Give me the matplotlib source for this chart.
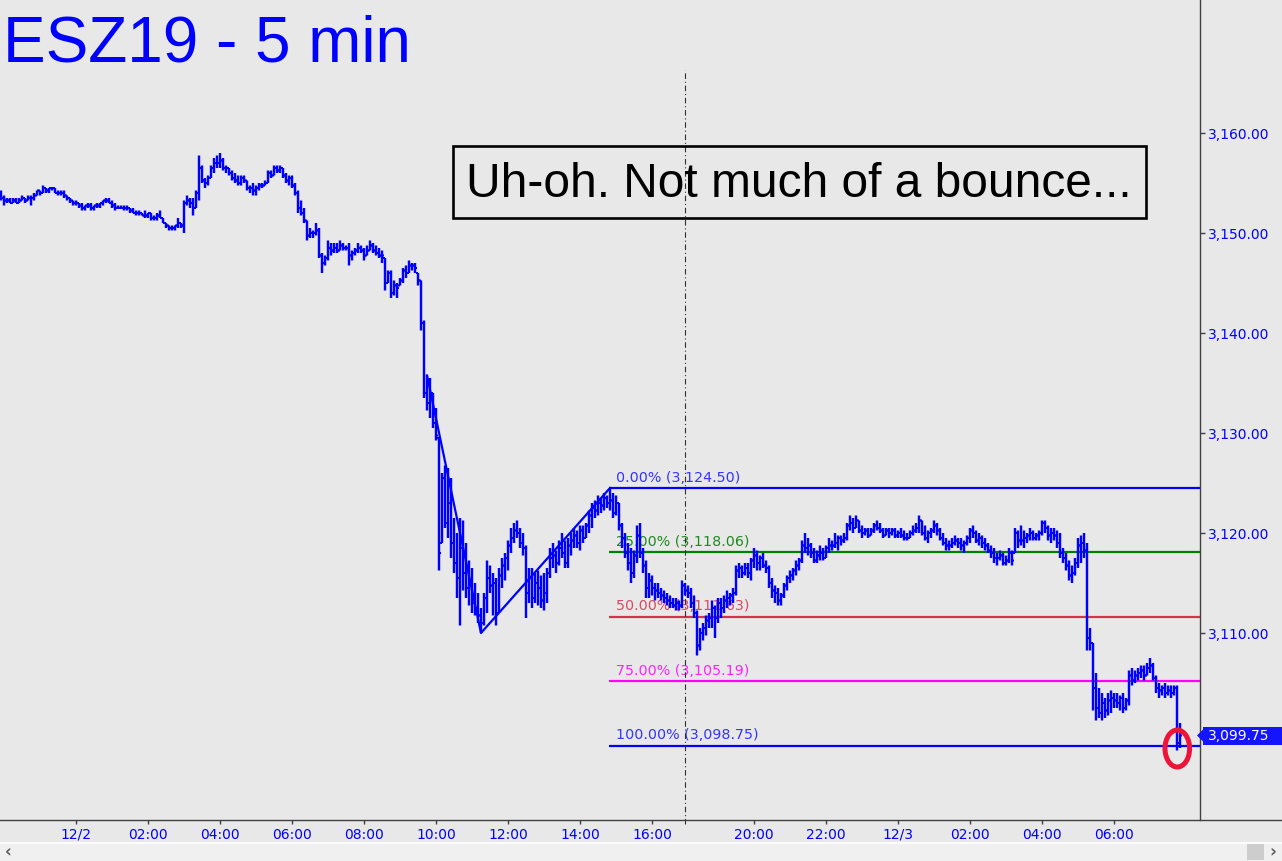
import numpy as np
import matplotlib
matplotlib.use("Agg")
import matplotlib.pyplot as plt
from matplotlib.patches import Ellipse, Rectangle, Polygon
from matplotlib.lines import Line2D
from matplotlib.ticker import FuncFormatter
from matplotlib.transforms import blended_transform_factory

# ---- 5 min bars, ESZ19 (high / low / close per bar)
hi = [3154.25, 3153.75, 3153.5, 3153.5, 3153.5, 3153.5, 3153.5, 3153.75, 3153.5, 3153.75,
      3153.75, 3154.0, 3154.25, 3154.25, 3154.75, 3154.5, 3154.5, 3154.5, 3154.5, 3154.25,
      3154.25, 3154.25, 3153.75, 3153.5, 3153.25, 3153.25, 3153.0, 3153.0, 3152.75, 3153.0,
      3153.0, 3152.75, 3153.0, 3153.0, 3153.25, 3153.5, 3153.5, 3153.25, 3153.0, 3152.75,
      3152.75, 3152.75, 3152.75, 3152.5, 3152.5, 3152.25, 3152.25, 3152.0, 3152.25, 3152.0,
      3152.0, 3151.75, 3152.0, 3152.25, 3151.5, 3151.0, 3150.75, 3150.75, 3150.75, 3151.5,
      3151.0, 3153.25, 3153.75, 3153.5, 3153.5, 3154.25, 3157.75, 3156.75, 3155.5, 3155.75,
      3156.75, 3157.5, 3157.75, 3158.0, 3157.5, 3156.75, 3156.5, 3156.25, 3156.0, 3155.75,
      3155.75, 3155.75, 3155.25, 3154.75, 3155.0, 3154.75, 3155.0, 3155.0, 3155.25, 3156.25,
      3156.25, 3156.75, 3156.75, 3156.75, 3156.5, 3156.0, 3155.75, 3155.75, 3155.0, 3154.25,
      3153.25, 3152.5, 3151.25, 3150.5, 3150.25, 3151.0, 3150.5, 3148.0, 3147.75, 3149.25,
      3149.0, 3149.0, 3149.0, 3149.25, 3149.0, 3148.75, 3149.0, 3148.25, 3148.5, 3149.0,
      3148.75, 3148.5, 3148.75, 3149.25, 3149.0, 3148.75, 3148.5, 3148.25, 3147.5, 3146.25,
      3146.25, 3145.25, 3145.0, 3145.5, 3146.5, 3146.75, 3147.25, 3147.0, 3147.0, 3146.0,
      3145.25, 3141.25, 3135.75, 3135.5, 3134.0, 3132.5, 3129.5, 3126.0, 3126.75, 3126.5,
      3125.5, 3121.5, 3120.0, 3121.5, 3121.25, 3119.0, 3117.25, 3116.5, 3115.0, 3114.0,
      3112.5, 3114.0, 3117.25, 3116.75, 3116.0, 3115.5, 3116.5, 3117.5, 3118.0, 3119.25,
      3120.5, 3121.0, 3121.25, 3120.5, 3120.0, 3118.75, 3116.5, 3116.5, 3116.0, 3116.25,
      3115.75, 3116.0, 3116.5, 3118.5, 3119.0, 3118.25, 3119.25, 3120.0, 3119.25, 3119.5,
      3120.0, 3120.5, 3120.25, 3120.75, 3120.75, 3121.0, 3122.25, 3123.0, 3123.25, 3123.75,
      3123.5, 3124.0, 3123.75, 3124.5, 3124.0, 3123.75, 3123.0, 3121.0, 3120.0, 3119.0,
      3118.5, 3118.25, 3120.75, 3121.0, 3118.5, 3117.25, 3116.0, 3115.75, 3115.0, 3115.0,
      3114.5, 3114.25, 3114.0, 3113.75, 3113.5, 3113.5, 3113.25, 3115.25, 3115.0, 3114.75,
      3114.5, 3113.75, 3112.25, 3110.5, 3111.0, 3111.75, 3112.0, 3113.25, 3112.75, 3113.5,
      3113.5, 3113.75, 3114.25, 3114.0, 3114.5, 3116.75, 3117.0, 3116.75, 3117.0, 3117.0,
      3117.5, 3118.5, 3118.25, 3117.75, 3118.0, 3117.25, 3116.75, 3115.5, 3114.75, 3114.5,
      3114.0, 3115.0, 3115.75, 3116.25, 3116.5, 3117.25, 3117.5, 3119.25, 3120.0, 3119.5,
      3119.0, 3118.5, 3118.25, 3118.75, 3118.5, 3118.75, 3119.5, 3119.25, 3120.0, 3119.75,
      3119.75, 3120.0, 3121.0, 3121.75, 3121.5, 3121.75, 3121.25, 3120.75, 3120.5, 3120.5,
      3120.5, 3121.0, 3121.25, 3121.0, 3120.5, 3120.5, 3120.5, 3120.5, 3120.5, 3120.25,
      3120.5, 3120.25, 3120.0, 3120.25, 3120.75, 3121.0, 3121.75, 3121.25, 3120.75, 3120.25,
      3120.5, 3121.25, 3121.0, 3120.5, 3120.0, 3119.5, 3119.25, 3119.5, 3119.75, 3119.5,
      3119.5, 3119.25, 3119.75, 3120.5, 3120.75, 3120.25, 3120.0, 3119.75, 3119.5, 3119.0,
      3118.75, 3118.5, 3118.0, 3118.25, 3118.0, 3117.75, 3118.5, 3118.25, 3120.5, 3120.25,
      3120.75, 3120.25, 3120.0, 3120.5, 3120.25, 3120.0, 3120.25, 3121.25, 3121.25, 3120.75,
      3120.5, 3120.5, 3120.25, 3120.0, 3118.5, 3118.0, 3117.25, 3116.75, 3117.5, 3119.5,
      3119.75, 3120.0, 3119.0, 3110.5, 3109.0, 3106.0, 3104.5, 3104.0, 3103.5, 3104.0,
      3104.25, 3104.0, 3104.0, 3103.75, 3104.0, 3103.5, 3106.25, 3106.5, 3106.25, 3106.5,
      3106.75, 3106.75, 3107.0, 3107.5, 3107.0, 3105.75, 3105.0, 3104.75, 3105.0, 3104.75,
      3104.75, 3104.75, 3104.75, 3101.0]
lo = [3153.25, 3152.75, 3153.0, 3153.0, 3153.0, 3153.0, 3153.0, 3153.25, 3153.0, 3153.25,
      3152.75, 3153.25, 3153.75, 3153.75, 3154.0, 3154.0, 3154.0, 3154.25, 3154.0, 3153.75,
      3153.75, 3153.5, 3153.25, 3153.0, 3152.75, 3152.75, 3152.5, 3152.25, 3152.25, 3152.5,
      3152.25, 3152.25, 3152.5, 3152.5, 3152.75, 3153.0, 3153.0, 3152.5, 3152.25, 3152.5,
      3152.5, 3152.25, 3152.25, 3152.0, 3152.0, 3151.75, 3151.75, 3151.75, 3151.5, 3151.5,
      3151.25, 3151.25, 3151.25, 3151.5, 3151.0, 3150.5, 3150.25, 3150.25, 3150.25, 3150.5,
      3150.5, 3150.0, 3152.75, 3152.5, 3151.75, 3152.5, 3153.25, 3155.0, 3154.5, 3154.75,
      3155.5, 3156.0, 3156.5, 3156.5, 3156.25, 3156.0, 3155.75, 3155.25, 3155.0, 3154.75,
      3154.75, 3155.0, 3154.25, 3154.0, 3153.75, 3153.75, 3154.25, 3154.5, 3154.75, 3155.0,
      3155.5, 3155.75, 3156.0, 3156.0, 3155.5, 3155.0, 3154.75, 3154.5, 3153.75, 3152.0,
      3151.75, 3151.0, 3149.25, 3149.5, 3149.5, 3149.75, 3147.5, 3146.0, 3146.75, 3147.25,
      3147.75, 3148.0, 3148.0, 3148.25, 3148.25, 3148.25, 3146.75, 3147.25, 3147.75, 3148.0,
      3148.0, 3147.25, 3147.75, 3148.25, 3148.0, 3147.75, 3147.5, 3147.0, 3144.25, 3145.0,
      3143.5, 3143.75, 3143.5, 3144.75, 3145.0, 3145.5, 3146.0, 3146.25, 3146.0, 3144.75,
      3140.25, 3133.5, 3132.25, 3131.5, 3130.5, 3129.25, 3116.25, 3119.0, 3120.5, 3119.5,
      3117.5, 3116.0, 3113.5, 3110.75, 3114.25, 3113.5, 3112.75, 3112.0, 3111.75, 3111.0,
      3110.0, 3110.75, 3112.0, 3114.0, 3111.75, 3110.75, 3112.0, 3114.5, 3115.25, 3116.25,
      3118.0, 3119.0, 3119.5, 3118.5, 3117.75, 3111.5, 3113.0, 3112.5, 3113.0, 3112.75,
      3112.5, 3112.25, 3113.0, 3115.5, 3116.5, 3116.0, 3116.75, 3117.5, 3116.5, 3116.5,
      3117.75, 3118.5, 3118.5, 3118.25, 3119.0, 3119.5, 3120.0, 3120.5, 3121.5, 3121.75,
      3122.0, 3122.25, 3122.5, 3122.25, 3121.5, 3121.75, 3120.25, 3118.5, 3117.5, 3116.25,
      3115.0, 3115.5, 3117.0, 3117.5, 3116.0, 3113.5, 3113.5, 3113.75, 3113.25, 3113.5,
      3113.25, 3113.0, 3112.75, 3112.5, 3112.5, 3112.25, 3112.25, 3112.5, 3113.75, 3113.5,
      3112.5, 3111.5, 3107.75, 3108.25, 3109.25, 3109.75, 3110.5, 3110.5, 3109.5, 3111.0,
      3111.5, 3112.0, 3112.5, 3112.75, 3113.0, 3113.75, 3115.5, 3115.5, 3115.75, 3115.5,
      3115.25, 3116.5, 3116.25, 3116.25, 3116.5, 3116.0, 3114.5, 3113.5, 3113.0, 3112.75,
      3112.75, 3113.5, 3114.25, 3115.0, 3115.25, 3115.75, 3116.25, 3117.0, 3118.0, 3117.75,
      3117.5, 3117.0, 3117.0, 3117.25, 3117.25, 3117.5, 3118.0, 3118.25, 3118.5, 3118.25,
      3118.75, 3119.0, 3119.25, 3120.25, 3120.0, 3120.5, 3120.0, 3119.5, 3119.75, 3119.5,
      3119.75, 3120.0, 3120.25, 3120.0, 3119.5, 3119.75, 3119.5, 3119.75, 3119.5, 3119.5,
      3119.5, 3119.25, 3119.25, 3119.5, 3119.75, 3120.0, 3120.0, 3119.75, 3119.25, 3119.0,
      3119.5, 3120.0, 3119.75, 3119.25, 3118.75, 3118.25, 3118.25, 3118.5, 3118.75, 3118.5,
      3118.25, 3118.0, 3118.75, 3119.0, 3119.5, 3119.0, 3118.75, 3118.5, 3118.25, 3118.0,
      3117.5, 3117.0, 3116.75, 3117.25, 3116.75, 3116.75, 3117.0, 3116.75, 3118.0, 3118.5,
      3118.75, 3118.5, 3119.0, 3119.25, 3119.25, 3119.25, 3119.25, 3119.75, 3120.0, 3119.25,
      3119.0, 3119.25, 3118.5, 3117.5, 3117.0, 3116.25, 3115.25, 3115.0, 3115.75, 3116.5,
      3117.0, 3117.5, 3108.25, 3108.25, 3102.25, 3101.25, 3101.5, 3101.25, 3101.5, 3101.75,
      3102.0, 3102.5, 3102.5, 3102.25, 3102.0, 3102.25, 3102.75, 3104.75, 3105.0, 3105.25,
      3105.5, 3105.25, 3105.75, 3106.0, 3105.25, 3104.0, 3103.5, 3103.75, 3103.5, 3103.75,
      3103.5, 3103.75, 3098.25, 3098.5]
cl = [3153.5, 3153.25, 3153.25, 3153.0, 3153.25, 3153.0, 3153.25, 3153.5, 3153.25, 3153.5,
      3153.5, 3153.75, 3154.25, 3154.0, 3154.5, 3154.25, 3154.5, 3154.5, 3154.0, 3154.0,
      3154.0, 3153.75, 3153.5, 3153.25, 3153.0, 3153.0, 3152.75, 3152.5, 3152.75, 3152.75,
      3152.5, 3152.75, 3152.75, 3153.0, 3153.25, 3153.25, 3153.0, 3152.75, 3152.5, 3152.5,
      3152.5, 3152.5, 3152.5, 3152.25, 3152.0, 3152.0, 3152.0, 3151.75, 3151.75, 3152.0,
      3151.5, 3151.5, 3151.75, 3151.5, 3151.0, 3150.75, 3150.5, 3150.5, 3150.75, 3151.0,
      3150.75, 3153.0, 3153.25, 3153.0, 3152.5, 3154.0, 3156.5, 3155.25, 3155.0, 3155.5,
      3156.5, 3157.0, 3157.0, 3157.25, 3156.5, 3156.5, 3156.0, 3155.5, 3155.25, 3155.0,
      3155.5, 3155.25, 3154.5, 3154.5, 3154.25, 3154.5, 3154.75, 3154.75, 3155.0, 3156.0,
      3155.75, 3156.5, 3156.25, 3156.5, 3155.75, 3155.25, 3155.5, 3154.75, 3154.0, 3152.5,
      3152.0, 3151.25, 3149.75, 3150.0, 3150.0, 3150.25, 3147.75, 3147.0, 3147.5, 3148.5,
      3148.25, 3148.5, 3148.25, 3148.75, 3148.5, 3148.5, 3147.75, 3148.0, 3148.25, 3148.5,
      3148.25, 3147.75, 3148.25, 3148.75, 3148.25, 3148.0, 3147.75, 3147.75, 3145.0, 3146.0,
      3144.0, 3144.75, 3144.5, 3145.25, 3146.25, 3146.0, 3146.75, 3146.75, 3146.5, 3145.25,
      3141.0, 3134.0, 3133.0, 3134.0, 3131.0, 3129.75, 3118.0, 3125.5, 3121.0, 3123.0,
      3119.0, 3117.0, 3115.5, 3118.5, 3116.0, 3114.5, 3115.0, 3113.0, 3112.5, 3111.75,
      3111.0, 3113.5, 3115.5, 3114.75, 3115.0, 3112.0, 3115.75, 3116.75, 3117.5, 3118.75,
      3119.5, 3120.25, 3120.0, 3119.0, 3118.5, 3114.0, 3115.5, 3113.5, 3115.0, 3114.5,
      3113.25, 3114.0, 3116.0, 3117.5, 3117.75, 3117.0, 3118.5, 3118.0, 3117.0, 3118.75,
      3119.25, 3119.75, 3119.0, 3120.25, 3119.5, 3120.75, 3121.75, 3122.5, 3122.25, 3123.0,
      3122.75, 3123.5, 3123.0, 3123.25, 3122.0, 3123.0, 3120.75, 3119.5, 3118.0, 3117.0,
      3116.0, 3117.75, 3119.75, 3118.0, 3116.75, 3114.5, 3115.25, 3114.5, 3114.25, 3114.0,
      3113.75, 3113.5, 3113.25, 3113.0, 3112.75, 3113.0, 3112.75, 3114.75, 3114.25, 3114.0,
      3113.0, 3112.0, 3108.75, 3110.0, 3110.5, 3111.25, 3111.5, 3112.5, 3111.5, 3113.0,
      3112.5, 3113.25, 3113.5, 3113.75, 3114.0, 3116.25, 3116.5, 3116.0, 3116.5, 3116.0,
      3117.25, 3117.75, 3117.0, 3117.5, 3116.75, 3116.5, 3115.0, 3114.25, 3114.0, 3113.25,
      3113.75, 3114.75, 3115.5, 3115.75, 3116.25, 3116.75, 3117.25, 3118.75, 3118.5, 3118.75,
      3118.0, 3117.25, 3117.75, 3118.0, 3117.5, 3118.5, 3118.75, 3118.75, 3119.0, 3119.5,
      3119.25, 3119.5, 3120.75, 3121.0, 3120.5, 3121.25, 3120.25, 3120.0, 3120.25, 3119.75,
      3120.25, 3120.75, 3120.5, 3120.25, 3119.75, 3120.25, 3120.0, 3120.25, 3119.75, 3120.0,
      3119.75, 3119.5, 3119.5, 3120.0, 3120.25, 3120.5, 3121.25, 3120.0, 3119.5, 3120.0,
      3120.25, 3120.75, 3120.25, 3119.5, 3119.0, 3118.75, 3118.75, 3119.0, 3119.25, 3119.0,
      3118.75, 3119.0, 3119.5, 3120.25, 3120.0, 3119.25, 3119.5, 3119.0, 3118.75, 3118.25,
      3118.0, 3117.5, 3117.5, 3117.75, 3117.0, 3117.25, 3118.0, 3117.25, 3120.0, 3119.25,
      3119.25, 3119.5, 3119.75, 3120.0, 3119.5, 3119.75, 3120.0, 3121.0, 3120.5, 3119.75,
      3120.0, 3119.75, 3119.0, 3118.0, 3117.5, 3116.75, 3115.75, 3116.0, 3117.0, 3118.75,
      3119.0, 3118.25, 3109.5, 3109.0, 3104.5, 3102.5, 3102.0, 3103.0, 3102.25, 3103.25,
      3103.5, 3103.25, 3103.0, 3103.5, 3102.5, 3103.25, 3105.75, 3105.25, 3105.75, 3106.0,
      3106.25, 3105.75, 3106.5, 3106.75, 3105.5, 3104.5, 3104.25, 3104.5, 3104.0, 3104.25,
      3104.0, 3104.5, 3099.0, 3099.75]

tick_bars = [25, 49, 73, 97, 121, 145, 169, 193, 217, 251, 275, 299, 323, 347, 371]
tick_labels = ["12/2", "02:00", "04:00", "06:00", "08:00", "10:00", "12:00", "14:00",
               "16:00", "20:00", "22:00", "12/3", "02:00", "04:00", "06:00"]
date_bars = [25, 299]
session_bar = 227.9

# A-B-C pivots of the fib projection
pivot_bars = [142, 160, 203]
pivot_prices = [3135.75, 3110.0, 3124.5]
fib_pcts = [0.0, 0.25, 0.5, 0.75, 1.0]
fib_colors = ["#0000ff", "#008000", "#d2344c", "#ff00ff", "#0000ff"]
fib_text = ["#3434ff", "#1f8a1f", "#d84a62", "#ff22ff", "#3434ff"]

title = "ESZ19 - 5 min"
note = "Uh-oh. Not much of a bounce..."

BG = "#e8e8e8"
BLUE = "#0000ff"
W, H = 1282, 861

fig = plt.figure(figsize=(W / 100, H / 100), dpi=100, facecolor=BG)
ax = fig.add_axes([0, 41 / H, 1200 / W, 820 / H], facecolor=BG)

n = len(cl)
x = np.arange(n)
hi_a, lo_a, cl_a = np.array(hi), np.array(lo), np.array(cl)
op = np.clip(np.r_[cl_a[0], cl_a[:-1]], lo_a, hi_a)

ax.set_xlim(-1 / 3, 399.667)
ax.set_ylim(3091.3, 3173.3)

# bars
ax.vlines(x, lo_a, hi_a, color=BLUE, lw=1.75, snap=False, zorder=3)
ax.hlines(op, x - 0.67, x, color=BLUE, lw=1.45, snap=False, zorder=3)
ax.hlines(cl_a, x, x + 0.67, color=BLUE, lw=1.45, snap=False, zorder=3)

# abc pattern line
ax.plot(pivot_bars, pivot_prices, color=BLUE, lw=1.6, zorder=2.5)

# fib levels
rng = pivot_prices[0] - pivot_prices[1]
start = pivot_bars[2] - 0.4
for p, c, tc in zip(fib_pcts, fib_colors, fib_text):
    lvl = pivot_prices[2] - p * rng
    ax.hlines(lvl, start, 399.667, color=c, lw=1.6, zorder=1)
    ax.annotate(f"{p * 100:.2f}% ({lvl + 1e-9:,.2f})", xy=(start, lvl),
                xytext=(7, 6.5), textcoords="offset pixels", va="baseline",
                ha="left", color=tc, fontsize=10.3, zorder=1.5)

# session divider
ax.axvline(session_bar, ymin=-0.005, ymax=0.915, color="#303030", lw=0.8,
           ls=(0, (5, 2.5, 1, 2.5)), clip_on=False, zorder=2)

# red circle on last bar
ax.add_patch(Ellipse((n - 2 + 0.1, lo_a[-2:].min() + 0.2), 8.2, 3.7, fill=False,
                     ec="#ee1438", lw=3.6, zorder=5))

# axes styling
for s in ["top", "left", "bottom"]:
    ax.spines[s].set_visible(False)
ax.spines["right"].set_color("#404040")
ax.spines["right"].set_linewidth(1)

ax.yaxis.tick_right()
ax.set_yticks(range(3110, 3161, 10))
ax.yaxis.set_major_formatter(FuncFormatter(lambda v, p: f"{v:,.2f}"))
ax.tick_params(axis="y", direction="out", length=3.3, width=1, color="#404040",
               labelcolor=BLUE, labelsize=10, pad=2.5)

ax.set_xticks(tick_bars)
ax.set_xticklabels(tick_labels)
ax.set_xticks(date_bars, minor=True)
ax.tick_params(axis="x", which="major", direction="out", length=2.6, width=1,
               color="#404040", labelcolor=BLUE, labelsize=10, pad=3.0)
ax.tick_params(axis="x", which="minor", direction="out", length=7, width=1,
               color="#404040", labelbottom=False)

# bottom axis line across the whole window
fig.add_artist(Line2D([0, 1], [41 / H, 41 / H], transform=fig.transFigure,
                      color="#404040", lw=1))

# last price tag
tr = blended_transform_factory(fig.transFigure, ax.transData)
last = cl_a[-1]
fig.add_artist(Rectangle((1203 / W, last - 0.9), 1, 1.8, transform=tr,
                         fc="#1414ff", ec="none", zorder=6))
fig.add_artist(Polygon([[1197 / W, last], [1204 / W, last + 0.7], [1204 / W, last - 0.7]],
                       closed=True, transform=tr, fc="#1414ff", ec="none", zorder=6))
fig.text(1208 / W, last, f"{last:,.2f}", transform=tr, color="white", fontsize=10,
         va="center", ha="left", zorder=7)

# title and comment box
fig.text(3 / W, 1 - 61 / H, title, fontsize=46, color=BLUE,
         family="Liberation Sans", va="baseline", ha="left")
fig.add_artist(Rectangle((453 / W, 1 - 218 / H), 693 / W, 72 / H,
                         transform=fig.transFigure, fill=False, ec="black", lw=1.9))
fig.text(799 / W, 1 - 197 / H, note, fontsize=34.5, color="black",
         family="Liberation Sans", va="baseline", ha="center")

# scroll bar strip
fig.add_artist(Rectangle((0, 0), 1, 18 / H, transform=fig.transFigure,
                         fc="#f0f0f0", ec="none"))
fig.add_artist(Line2D([0, 1], [18 / H, 18 / H], transform=fig.transFigure,
                      color="white", lw=1.2))
fig.add_artist(Rectangle((1247 / W, 1 / H), 17 / W, 16 / H, transform=fig.transFigure,
                         fc="#cdcdcd", ec="none"))
fig.text(8 / W, 9 / H, "\u2039", fontsize=12, color="#606060", va="center", ha="center",
         weight="bold")
fig.text(1273 / W, 9 / H, "\u203a", fontsize=12, color="#606060", va="center",
         ha="center", weight="bold")

fig.savefig("out.png", dpi=100, facecolor=BG)
